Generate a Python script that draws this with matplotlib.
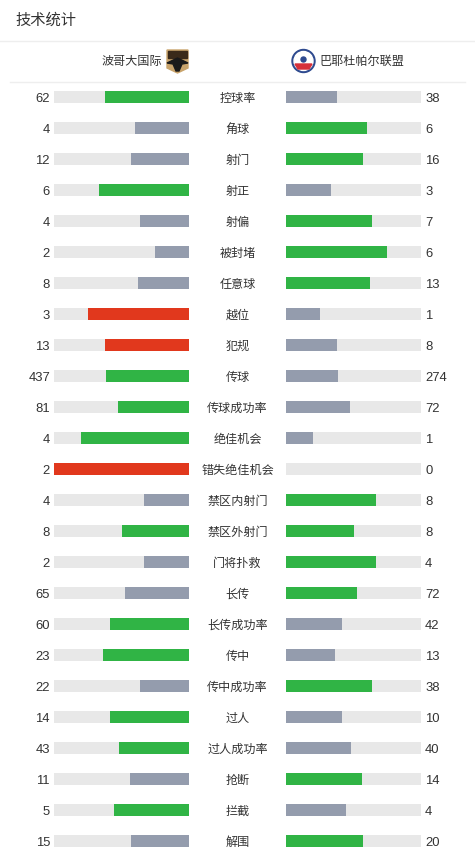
import numpy as np
import matplotlib.pyplot as plt
from matplotlib.patches import Rectangle, Circle, Polygon

plt.rcParams['font.family'] = ['Noto Sans CJK SC', 'DejaVu Sans']

title = "技术统计"
home_team = "波哥大国际"
away_team = "巴耶杜帕尔联盟"

stats = ["控球率", "角球", "射门", "射正", "射偏", "被封堵", "任意球", "越位", "犯规",
         "传球", "传球成功率", "绝佳机会", "错失绝佳机会", "禁区内射门", "禁区外射门",
         "门将扑救", "长传", "长传成功率", "传中", "传中成功率", "过人", "过人成功率",
         "抢断", "拦截", "解围"]
home = [62, 4, 12, 6, 4, 2, 8, 3, 13, 437, 81, 4, 2, 4, 8, 2, 65, 60, 23, 22, 14, 43, 11, 5, 15]
away = [38, 6, 16, 3, 7, 6, 13, 1, 8, 274, 72, 1, 0, 8, 8, 4, 72, 42, 13, 38, 10, 40, 14, 4, 20]
# stats where the higher number is bad (shown in red)
negative = ["越位", "犯规", "错失绝佳机会"]

GREEN = "#30b445"
GREY = "#949cad"
RED = "#e1381d"
TRACK = "#e8e8e8"
TXT = "#333333"
NUMFONT = ['Liberation Sans', 'DejaVu Sans']

W, H = 475, 857
fig = plt.figure(figsize=(W / 100, H / 100), dpi=100)
ax = fig.add_axes([0, 0, 1, 1])
ax.set_xlim(0, W)
ax.set_ylim(H, 0)
ax.axis("off")

ax.text(15, 20.5, title, fontsize=11, color=TXT, va="center", ha="left")
ax.plot([0, W], [40.5, 40.5], color="#eeeeee", lw=1)
ax.plot([10, 465], [81.5, 81.5], color="#eeeeee", lw=1)

# header
ax.text(162, 61.5, home_team, fontsize=8.7, color=TXT, va="center", ha="right")
ax.text(319, 61.5, away_team, fontsize=8.7, color=TXT, va="center", ha="left")

# home logo: tan shield with dark bird
ax.add_patch(Polygon([[167, 50], [188, 50], [188, 68], [177.5, 73], [167, 68]],
                     closed=True, color="#c9a46c"))
ax.add_patch(Rectangle((168, 51), 19, 7, color="#3a2a1a"))
ax.add_patch(Polygon([[167, 63], [177.5, 58], [188, 63], [182, 64], [179, 71],
                      [176, 71], [173, 64]], closed=True, color="#1a1a1a"))
# away logo: circle badge
ax.add_patch(Circle((303.5, 61), 11.5, color="#2e4a8f"))
ax.add_patch(Circle((303.5, 61), 9.5, color="white"))
ax.add_patch(Polygon([[295, 64], [312, 64], [309, 69], [298, 69]], closed=True, color="#d6303a"))
ax.add_patch(Circle((303.5, 59.5), 2.5, color="#2e4a8f"))

x_l0, x_l1 = 54, 189
x_r0, x_r1 = 286, 421
bw = x_l1 - x_l0
bh = 12
y0 = 97
dy = 31

for i, (name, h, a) in enumerate(zip(stats, home, away)):
    y = y0 + i * dy
    tot = h + a
    fh = h / tot if tot else 0
    fa = a / tot if tot else 0
    good = RED if name in negative else GREEN
    ch = good if h >= a else GREY
    ca = good if a >= h else GREY

    ax.add_patch(Rectangle((x_l0, y - bh / 2), bw, bh, color=TRACK, lw=0))
    ax.add_patch(Rectangle((x_r0, y - bh / 2), bw, bh, color=TRACK, lw=0))
    if fh > 0:
        ax.add_patch(Rectangle((x_l1 - bw * fh, y - bh / 2), bw * fh, bh, color=ch, lw=0))
    if fa > 0:
        ax.add_patch(Rectangle((x_r0, y - bh / 2), bw * fa, bh, color=ca, lw=0))

    ax.text(50, y + 4.7, str(h), fontsize=9.4, color=TXT, va="baseline", ha="right", family=NUMFONT)
    ax.text(425, y + 4.7, str(a), fontsize=9.4, color=TXT, va="baseline", ha="left", family=NUMFONT)
    ax.text(237.5, y + 1, name, fontsize=8.7, color=TXT, va="center", ha="center")

fig.savefig("out.png", dpi=100, facecolor="white")
